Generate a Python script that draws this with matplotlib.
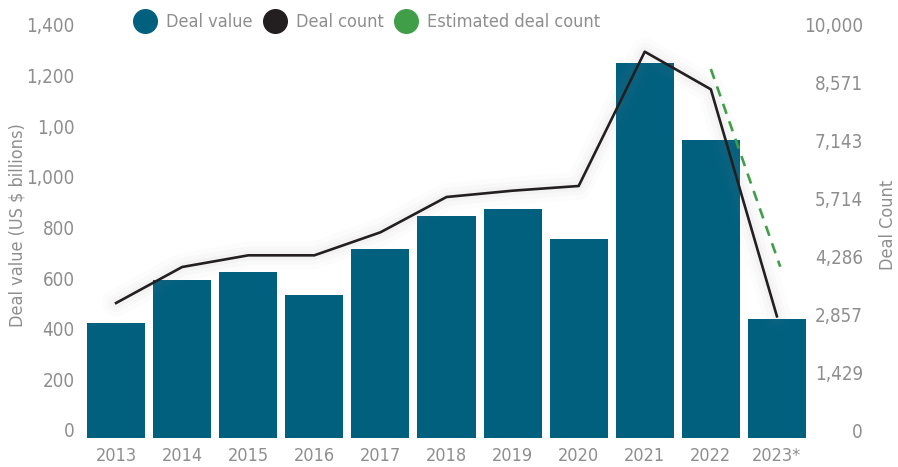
import numpy as np
import matplotlib
matplotlib.use('Agg')
import matplotlib.pyplot as plt
from matplotlib.lines import Line2D

# data
years = ['2013', '2014', '2015', '2016', '2017', '2018', '2019', '2020', '2021', '2022', '2023*']
deal_value = [370, 518, 546, 467, 626, 740, 764, 660, 1269, 1002, 384]
deal_count = [3136, 4025, 4313, 4313, 4881, 5753, 5909, 6025, 9341, 8412, 2807]
est_years = [9, 10.05]
est_count = [8914, 4032]
left_ticks = [0, 175, 350, 525, 700, 875, 1050, 1225, 1400]
left_labels = ['0', '200', '400', '600', '800', '1,000', '1,00', '1,200', '1,400']
right_ticks = [0, 1429, 2857, 4286, 5714, 7143, 8571, 10000]
right_labels = ['0', '1,429', '2,857', '4,286', '5,714', '7,143', '8,571', '10,000']

BLUE = '#02607f'
BLACK = '#231f20'
GREEN = '#3f9e47'
GREY = '#8e8e8e'

plt.rcParams['font.family'] = ['DejaVu Sans']
plt.rcParams['font.stretch'] = 'condensed'

fig = plt.figure(figsize=(8.98, 4.67), dpi=100)
ax = fig.add_axes([87/898, 1-437.7/467, (806-87)/898, (437.7-25)/467])
ax2 = ax.twinx()

x = np.arange(len(years))
ax.bar(x, np.array(deal_value) + 27, bottom=-27, width=0.88, color=BLUE, zorder=2)
ax.set_xlim(-0.44, 10.44)
ax.set_ylim(-27, 1400)
ax.set_yticks(left_ticks)
ax.set_yticklabels(left_labels)
ax.set_xticks(x)
ax.set_xticklabels(years)
ax.tick_params(axis='y', length=0, pad=9, labelsize=13.5, labelcolor=GREY)
ax.tick_params(axis='x', length=0, pad=7, labelsize=13, labelcolor=GREY)
ax.set_ylabel('Deal value (US $ billions)', color=GREY, fontsize=13, va='center')
ax.yaxis.set_label_coords(-0.097, 0.515)

# soft glow under the count line
for lw, a in [(20, 0.02), (13, 0.03), (7, 0.04)]:
    ax2.plot(x, deal_count, color='#808080', lw=lw, alpha=a, solid_capstyle='round', zorder=1)
ax2.plot(x, deal_count, color=BLACK, lw=1.9, zorder=3)
ax2.plot(est_years, est_count, color=GREEN, lw=1.9, ls=(0, (4, 3)), zorder=3)
ax2.set_ylim(-190, 10000)
ax2.set_yticks(right_ticks)
ax2.set_yticklabels(right_labels)
ax2.tick_params(axis='y', length=0, pad=41, labelsize=13.5, labelcolor=GREY)
for t in ax2.get_yticklabels():
    t.set_horizontalalignment('right')
ax2.set_ylabel('Deal Count', color=GREY, fontsize=13, va='center', rotation=90)
ax2.yaxis.set_label_coords(1.114, 0.515)

for a in (ax, ax2):
    for s in a.spines.values():
        s.set_visible(False)

handles = [Line2D([], [], marker='o', ls='', ms=17, color=c) for c in (BLUE, BLACK, GREEN)]
fig.legend(handles, ['Deal value', 'Deal count', 'Estimated deal count'],
           loc='center left', bbox_to_anchor=(126/898, 1-22/467), ncol=3, frameon=False,
           handletextpad=0.6, columnspacing=0.7, fontsize=13, labelcolor=GREY,
           handlelength=1.1, borderpad=0)

fig.savefig('out.png', dpi=100)
